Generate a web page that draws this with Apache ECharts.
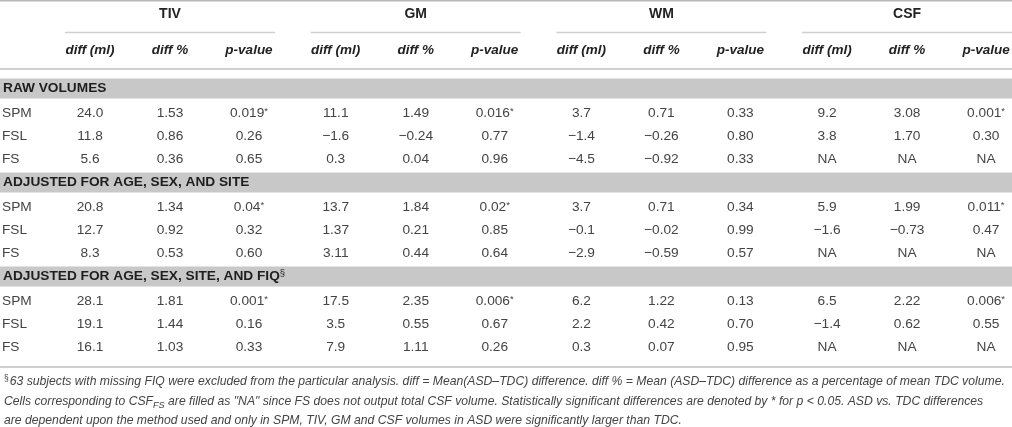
<!DOCTYPE html>
<html>
<head>
<meta charset="utf-8">
<script src="https://cdn.jsdelivr.net/npm/echarts@6/dist/echarts.min.js"></script>
<style>
  html, body { margin: 0; padding: 0; background: #fff; }
  #chart { width: 1012px; height: 427px; }
</style>
</head>
<body>
<div id="chart"></div>
<script>
// table content
var groups   = ['TIV', 'GM', 'WM', 'CSF'];
var subHeads = ['diff (ml)', 'diff %', 'p-value'];
var sections = ['RAW VOLUMES', 'ADJUSTED FOR AGE, SEX, AND SITE', 'ADJUSTED FOR AGE, SEX, SITE, AND FIQ'];
var sectionMarks = ['', '', '§'];
var methods  = ['SPM', 'FSL', 'FS'];

var rawVolumes = [
    ['24.0', '1.53', '0.019*', '11.1', '1.49', '0.016*', '3.7', '0.71', '0.33', '9.2', '3.08', '0.001*'],
    ['11.8', '0.86', '0.26', '−1.6', '−0.24', '0.77', '−1.4', '−0.26', '0.80', '3.8', '1.70', '0.30'],
    ['5.6', '0.36', '0.65', '0.3', '0.04', '0.96', '−4.5', '−0.92', '0.33', 'NA', 'NA', 'NA']
];
var adjAgeSexSite = [
    ['20.8', '1.34', '0.04*', '13.7', '1.84', '0.02*', '3.7', '0.71', '0.34', '5.9', '1.99', '0.011*'],
    ['12.7', '0.92', '0.32', '1.37', '0.21', '0.85', '−0.1', '−0.02', '0.99', '−1.6', '−0.73', '0.47'],
    ['8.3', '0.53', '0.60', '3.11', '0.44', '0.64', '−2.9', '−0.59', '0.57', 'NA', 'NA', 'NA']
];
var adjAgeSexSiteFiq = [
    ['28.1', '1.81', '0.001*', '17.5', '2.35', '0.006*', '6.2', '1.22', '0.13', '6.5', '2.22', '0.006*'],
    ['19.1', '1.44', '0.16', '3.5', '0.55', '0.67', '2.2', '0.42', '0.70', '−1.4', '0.62', '0.55'],
    ['16.1', '1.03', '0.33', '7.9', '1.11', '0.26', '0.3', '0.07', '0.95', 'NA', 'NA', 'NA']
];
var sectionValues = [rawVolumes, adjAgeSexSite, adjAgeSexSiteFiq];

var footnotes = [
    '{sup|§}63 subjects with missing FIQ were excluded from the particular analysis. diff = Mean(ASD–TDC) difference. diff % = Mean (ASD–TDC) difference as a percentage of mean TDC volume.',
    'Cells corresponding to CSF{sub|FS} are filled as "NA" since FS does not output total CSF volume. Statistically significant differences are denoted by * for p < 0.05. ASD vs. TDC differences',
    'are dependent upon the method used and only in SPM, TIV, GM and CSF volumes in ASD were significantly larger than TDC.'
];

// layout (pixel-space axes)
var W = 1012, H = 427;
var groupLeft = 65, groupStep = 245.7, groupWidth = 210;
var colOffset = [25, 105, 184];
var headY = 14, underlineY = 32.5, subHeadY = 50, headLineY = 69;
var bandY0 = 88.5, bandStep = 94, bandHalf = 10;
var rowOffset = [25, 48, 71];
var bottomLineY = 367;
var footY = [382, 402, 421];

var FONT = '"Liberation Sans", Arial, sans-serif';
var TXT = '#444';

function colX(g, c) { return groupLeft + g * groupStep + colOffset[c]; }

// cells: [x, y, text, kind]
var cells = [];
groups.forEach(function(name, g) {
    cells.push([groupLeft + g * groupStep + groupWidth / 2, headY, name, 'head']);
    subHeads.forEach(function(s, c) {
        cells.push([colX(g, c), subHeadY, s, 'sub']);
    });
});
sections.forEach(function(name, s) {
    var by = bandY0 + s * bandStep;
    cells.push([3, by, name + (sectionMarks[s] ? '{sup|' + sectionMarks[s] + '}' : ''), 'section']);
    methods.forEach(function(m, r) {
        var y = by + rowOffset[r];
        cells.push([2, y, m, 'label']);
        sectionValues[s][r].forEach(function(v, k) {
            var g = Math.floor(k / 3), c = k % 3;
            var txt = v.indexOf('*') > -1 ? v.replace('*', '{ast|*}') : v;
            cells.push([colX(g, c), y, txt, 'value']);
        });
    });
});
footnotes.forEach(function(t, i) {
    cells.push([4, footY[i], t, 'foot']);
});

// bands and rules
var bands = sections.map(function(n, s) { return [0, bandY0 + s * bandStep]; });
var rules = [
    [0, W, 0.8, 1.6, '#b8b8b8'],
    [0, W, headLineY, 2, '#d0d0d0'],
    [0, W, bottomLineY, 2, '#d0d0d0']
];
groups.forEach(function(n, g) {
    var x0 = groupLeft + g * groupStep;
    rules.push([x0, x0 + groupWidth, underlineY, 1.6, '#d0d0d0']);
});

var styles = {
    head:    { font: 'bold 14px ' + FONT, fill: '#222', align: 'center' },
    sub:     { font: 'italic bold 13.5px ' + FONT, fill: '#222', align: 'center' },
    section: { font: 'bold 13.7px ' + FONT, fill: '#1e1e1e', align: 'left' },
    label:   { font: '13.7px ' + FONT, fill: TXT, align: 'left' },
    value:   { font: '13.7px ' + FONT, fill: TXT, align: 'center' },
    foot:    { font: 'italic 12.2px ' + FONT, fill: '#444', align: 'left' }
};

var chart = echarts.init(document.getElementById('chart'), null, { renderer: 'canvas' });
chart.setOption({
    animation: false,
    backgroundColor: '#fff',
    grid: { left: 0, right: 0, top: 0, bottom: 0 },
    xAxis: { type: 'value', min: 0, max: W, show: false },
    yAxis: { type: 'value', min: 0, max: H, inverse: true, show: false },
    series: [
        {
            type: 'custom',
            data: bands,
            z: 1,
            renderItem: function(params, api) {
                var p0 = api.coord([0, api.value(1) - bandHalf]);
                var p1 = api.coord([W, api.value(1) + bandHalf]);
                return { type: 'rect', shape: { x: p0[0], y: p0[1], width: p1[0] - p0[0], height: p1[1] - p0[1] },
                         style: { fill: '#c8c8c8' } };
            }
        },
        {
            type: 'custom',
            data: rules,
            z: 2,
            renderItem: function(params, api) {
                var r = rules[params.dataIndex];
                var a = api.coord([r[0], r[2]]), b = api.coord([r[1], r[2]]);
                return { type: 'line', shape: { x1: a[0], y1: a[1], x2: b[0], y2: b[1] },
                         style: { stroke: r[4], lineWidth: r[3] } };
            }
        },
        {
            type: 'custom',
            data: cells.map(function(c, i) { return [c[0], c[1], i]; }),
            z: 3,
            renderItem: function(params, api) {
                var c = cells[params.dataIndex];
                var p = api.coord([c[0], c[1]]);
                var st = styles[c[3]];
                var base = parseFloat(st.font.match(/([\d.]+)px/)[1]);
                return {
                    type: 'text',
                    x: p[0], y: p[1],
                    style: {
                        text: c[2],
                        font: st.font,
                        fill: st.fill,
                        align: st.align,
                        verticalAlign: 'middle',
                        rich: {
                            sup: { fontSize: base * 0.7, fontFamily: FONT, fill: st.fill, verticalAlign: 'top', padding: [0, 1, 6, 0] },
                            sub: { fontSize: base * 0.75, fontFamily: FONT, fontStyle: 'italic', fill: st.fill, verticalAlign: 'bottom', padding: [6, 0, 0, 0] },
                            ast: { fontSize: base * 0.7, fontFamily: FONT, fill: st.fill, verticalAlign: 'top', padding: [0, 0, 5, 0] }
                        }
                    }
                };
            }
        }
    ]
});
</script>
</body>
</html>
